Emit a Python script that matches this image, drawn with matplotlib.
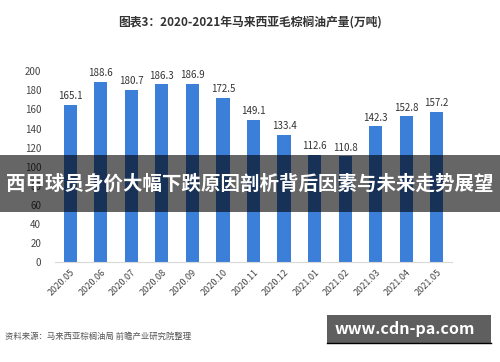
import matplotlib.pyplot as plt
from matplotlib.patches import Rectangle

plt.rcParams['font.family'] = ['Noto Sans CJK SC', 'DejaVu Sans']

months = ['2020.05', '2020.06', '2020.07', '2020.08', '2020.09', '2020.10', '2020.11',
          '2020.12', '2021.01', '2021.02', '2021.03', '2021.04', '2021.05']
output = [165.1, 188.6, 180.7, 186.3, 186.9, 172.5, 149.1, 133.4, 112.6, 110.8, 142.3, 152.8, 157.2]
yticks = [0, 20, 40, 60, 80, 100, 120, 140, 160, 180, 200]

title = '图表3：2020-2021年马来西亚毛棕榈油产量(万吨)'
banner = '西甲球员身价大幅下跌原因剖析背后因素与未来走势展望'
source = '资料来源：马来西亚棕榈油局 前瞻产业研究院整理'
site = 'www.cdn-pa.com'

fig = plt.figure(figsize=(5, 3.62), dpi=100)
ax = fig.add_axes([0.11, 0.276, 0.794, 0.527])

x = list(range(len(months)))
ax.bar(x, output, width=0.43, color='#3C7FD9', zorder=2)
for xi, v in zip(x, output):
    ax.text(xi, v + 4, f'{v:.1f}', ha='center', va='bottom', fontsize=7, color='#333333', clip_on=False)

ax.set_xlim(-0.5, 12.5)
ax.set_ylim(0, 200)
ax.set_yticks(yticks)
ax.set_xticks(x)
ax.set_xticklabels(months, rotation=45, ha='right', rotation_mode='anchor', fontsize=6.5, color='#444444')
ax.tick_params(axis='y', labelsize=7, colors='#444444', length=0, pad=10)
ax.tick_params(axis='x', length=0, pad=4)
for s in ['top', 'right', 'left']:
    ax.spines[s].set_visible(False)
ax.spines['bottom'].set_color('#d9d9d9')

fig.text(0.5, 0.94, title, ha='center', va='center', fontsize=8.5, fontweight='bold', color='#333333')
fig.text(0.01, 0.07, source, ha='left', va='center', fontsize=6, color='#555555')

# overlay banner
fig.patches.append(Rectangle((0, 0.414), 1, 0.158, transform=fig.transFigure,
                             facecolor='black', alpha=0.6, zorder=5))
fig.text(0.5, 0.49, banner, ha='center', va='center', fontsize=14, fontweight='bold',
         color='white', zorder=6)

# site badge
fig.patches.append(Rectangle((0.654, 0.052), 0.328, 0.078, transform=fig.transFigure,
                             facecolor='#5f5f5f', zorder=5))
fig.lines.append(plt.Line2D([0.654, 0.982], [0.052, 0.052], transform=fig.transFigure,
                            color='black', lw=1, zorder=6))
fig.text(0.81, 0.092, site, ha='center', va='center', fontsize=11.5, fontweight='bold',
         color='white', zorder=6)

fig.savefig('out.png', dpi=100)
